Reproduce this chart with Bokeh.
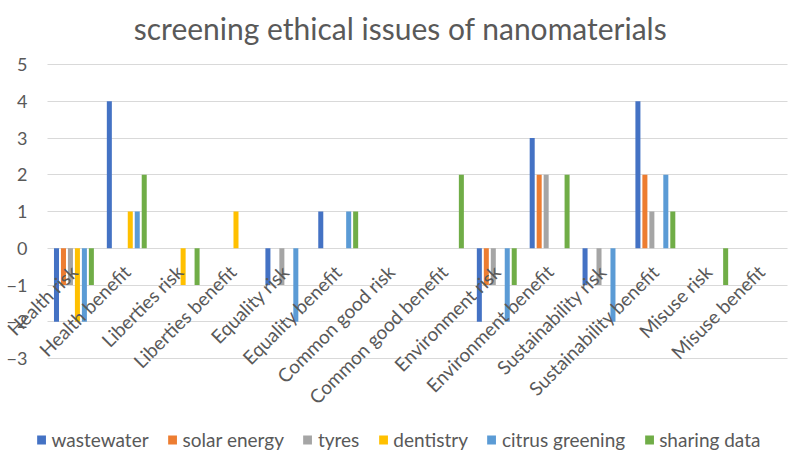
import math
from bokeh.plotting import figure
from bokeh.models import ColumnDataSource, Range1d, FixedTicker, Legend, LegendItem, Label
from bokeh.transform import dodge
from bokeh.embed import file_html
from bokeh.resources import INLINE

title_text = "screening ethical issues of nanomaterials"
categories = ["Health risk", "Health benefit", "Liberties risk", "Liberties benefit",
              "Equality risk", "Equality benefit", "Common good risk", "Common good benefit",
              "Environment risk", "Environment benefit", "Sustainability risk",
              "Sustainability benefit", "Misuse risk", "Misuse benefit"]
series_names = ["wastewater", "solar energy", "tyres", "dentistry", "citrus greening", "sharing data"]
wastewater      = [-2, 4, 0, 0, -1, 1, 0, 0, -2, 3, -1, 4, 0, 0]
solar_energy    = [-1, 0, 0, 0, 0, 0, 0, 0, -1, 2, 0, 2, 0, 0]
tyres           = [-1, 0, 0, 0, -1, 0, 0, 0, -1, 2, -1, 1, 0, 0]
dentistry       = [-2, 1, -1, 1, 0, 0, 0, 0, 0, 0, 0, 0, 0, 0]
citrus_greening = [-2, 1, 0, 0, -2, 1, 0, 0, -2, 0, -2, 2, 0, 0]
sharing_data    = [-1, 2, -1, 0, 0, 1, 0, 2, -1, 2, 0, 1, -1, 0]
y_ticks = [-3, -2, -1, 0, 1, 2, 3, 4, 5]

colors = ["#4472C4", "#ED7D31", "#A5A5A5", "#FFC000", "#5B9BD5", "#70AD47"]
series_values = [wastewater, solar_energy, tyres, dentistry, citrus_greening, sharing_data]
keys = ["s0", "s1", "s2", "s3", "s4", "s5"]

n = len(categories)
centers = [i + 0.5 for i in range(n)]
data = {"x": centers, "cat": categories}
for k, vals in zip(keys, series_values):
    data[k] = vals
source = ColumnDataSource(data)

FONT = "Lato"
GREY = "#595959"

W, H = 796, 459
# frame fills the canvas; plot region (categories 0..n, values -3..5) sits at x 47..787, y 64..358
px_per_cat = (787 - 47) / n
px_per_unit = (358 - 64) / (y_ticks[-1] - y_ticks[0])
x_range = Range1d(-47 / px_per_cat, n + (W - 787) / px_per_cat)
y_range = Range1d(y_ticks[0] - (H - 358) / px_per_unit, y_ticks[-1] + 64 / px_per_unit)

p = figure(width=W, height=H, x_range=x_range, y_range=y_range,
           output_backend="svg", toolbar_location=None,
           min_border_left=0, min_border_right=0, min_border_top=0, min_border_bottom=0)
p.outline_line_color = None
p.background_fill_color = "white"
p.border_fill_color = "white"

title = Label(x=400, y=H - 27, x_units="screen", y_units="screen", text=title_text,
              text_align="center", text_baseline="alphabetic", text_font=FONT,
              text_font_size="30px", text_color=GREY)
p.add_layout(title)

step = 0.132
offsets = [(i - 2.5) * step for i in range(6)]
items = []
for k, name, c, off in zip(keys, series_names, colors, offsets):
    r = p.vbar(x=dodge("x", off), top=k, bottom=0, width=0.095,
               source=source, fill_color=c, line_color=None)
    items.append(LegendItem(label=name, renderers=[r]))

# category axis drawn at the zero line
p.xaxis.fixed_location = 0
p.xaxis.ticker = FixedTicker(ticks=centers)
p.xaxis.major_label_overrides = {c: name for c, name in zip(centers, categories)}
p.xaxis.major_label_orientation = math.pi / 4
p.xaxis.axis_line_color = None
p.xaxis.major_tick_line_color = None
p.xaxis.major_tick_out = 0
p.xaxis.major_tick_in = 0
p.xaxis.minor_tick_line_color = None
p.xaxis.major_label_standoff = 20
p.xaxis.major_label_text_font = FONT
p.xaxis.major_label_text_font_size = "19px"
p.xaxis.major_label_text_color = GREY

p.yaxis.fixed_location = 0
p.yaxis.ticker = FixedTicker(ticks=y_ticks)
p.yaxis.axis_line_color = None
p.yaxis.major_tick_line_color = None
p.yaxis.major_tick_out = 0
p.yaxis.major_tick_in = 0
p.yaxis.minor_tick_line_color = None
p.yaxis.major_label_standoff = 20
p.yaxis.major_label_text_font = FONT
p.yaxis.major_label_text_font_size = "18px"
p.yaxis.major_label_text_color = GREY

p.xgrid.grid_line_color = None
p.ygrid.ticker = FixedTicker(ticks=y_ticks)
p.ygrid.cross_bounds = (0, n)
p.ygrid.grid_line_color = "#D9D9D9"
p.ygrid.grid_line_width = 1

legend = Legend(items=items, orientation="horizontal", location="bottom_center",
                border_line_color=None, background_fill_alpha=0,
                label_text_font=FONT, label_text_font_size="19px", label_text_color=GREY,
                glyph_width=11, glyph_height=11, label_standoff=5, spacing=18,
                padding=0, margin=8, label_height=20)
p.add_layout(legend)

open("out.html", "w").write(file_html(p, INLINE))
